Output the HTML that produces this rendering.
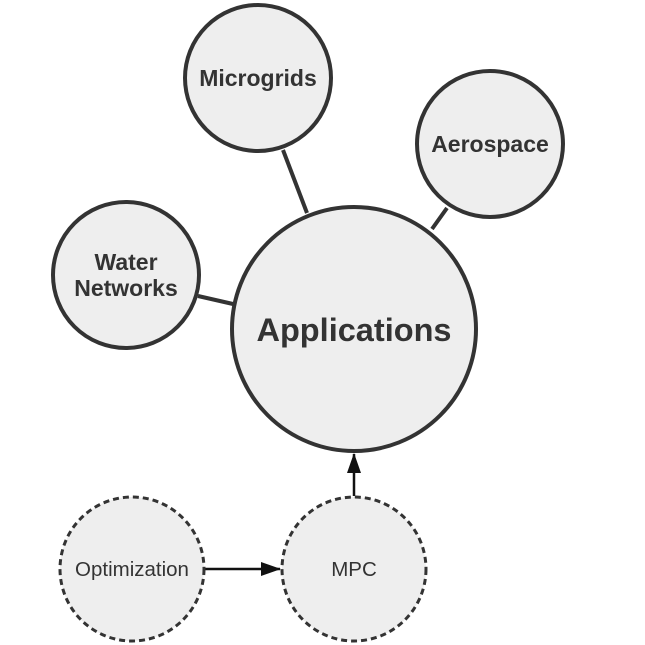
<!DOCTYPE html>
<html><head><meta charset="utf-8"><style>
html,body{margin:0;padding:0;background:#fff;}
svg{display:block;}
text{font-family:"Liberation Sans",Arial,sans-serif;fill:#333;text-anchor:middle;}
</style></head><body>
<svg width="645" height="645" viewBox="0 0 645 645" xmlns="http://www.w3.org/2000/svg">
<defs>
<marker id="b" markerWidth="20" markerHeight="14" refX="19" refY="7" orient="auto" markerUnits="userSpaceOnUse"><path d="M0,0 L20,7 L0,14 z" fill="#111"/></marker></defs>
<g stroke="#333" stroke-width="4">
<line x1="283" y1="150" x2="307" y2="213"/>
<line x1="447" y1="208" x2="432" y2="229"/>
<line x1="198" y1="296" x2="233" y2="304"/>
</g>
<line x1="354" y1="496" x2="354" y2="454" stroke="#111" stroke-width="2.5" marker-end="url(#b)"/>
<line x1="205" y1="569" x2="280" y2="569" stroke="#111" stroke-width="2.5" marker-end="url(#b)"/>
<g fill="#eeeeee" stroke="#333" stroke-width="4">
<circle cx="258" cy="78" r="73"/>
<circle cx="490" cy="144" r="73"/>
<circle cx="126" cy="275" r="73"/>
<circle cx="354" cy="329" r="122"/>
</g>
<g fill="#eeeeee" stroke="#333" stroke-width="3" stroke-dasharray="6,4">
<circle cx="132" cy="569" r="72"/>
<circle cx="354" cy="569" r="72"/>
</g>
<text x="258" y="86" font-size="23" font-weight="bold">Microgrids</text>
<text x="490" y="152" font-size="23" font-weight="bold">Aerospace</text>
<text x="126" y="270" font-size="23" font-weight="bold">Water</text>
<text x="126" y="296" font-size="23" font-weight="bold">Networks</text>
<text x="354" y="341" font-size="32.5" font-weight="bold">Applications</text>
<text x="132" y="576" font-size="20.5">Optimization</text>
<text x="354" y="576" font-size="20.5">MPC</text>
</svg>
</body></html>
